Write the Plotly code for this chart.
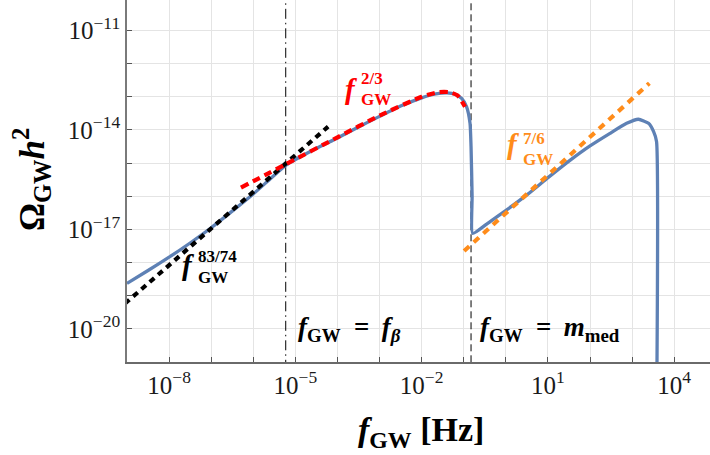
import plotly.graph_objects as go

# ---------------- data ----------------
f_main = [1.0e-9, 3.16e-9, 1.0e-8, 3.16e-8, 1.0e-7, 3.16e-7, 1.0e-6, 2.51e-6, 6.0e-6,
          2.51e-5, 1.0e-4, 3.16e-4, 1.0e-3, 3.16e-3, 1.0e-2, 2.0e-2, 4.0e-2, 6.3e-2,
          8.9e-2, 0.117, 0.141, 0.149, 0.158, 0.163, 0.35, 1.05, 3.16, 10.2, 33.9,
          100.0, 298.0, 741.0, 1410.0, 2450.0, 3240.0, 3800.0, 3850.0]
omega_main = [2.34e-19, 5.75e-19, 1.45e-18, 3.89e-18, 1.12e-17, 3.55e-17, 1.17e-16, 3.31e-16, 8.7e-16,
              2.4e-15, 5.75e-15, 1.23e-14, 2.57e-14, 5.25e-14, 9.3e-14, 1.2e-13, 1.32e-13, 1.2e-13,
              8.9e-14, 5.0e-14, 1.58e-14, 3.16e-15, 1.0e-16, 7.6e-18, 1.45e-17, 3.9e-17, 1.1e-16,
              3.7e-16, 1.23e-15, 3.3e-15, 7.9e-15, 1.58e-14, 2.1e-14, 1.58e-14, 8.9e-15, 4.5e-15, 1.0e-22]

f_red = [5.1e-7, 6.0e-6, 1.0e-4, 1.0e-3, 1.0e-2, 2.5e-2, 4.5e-2, 7.1e-2, 0.107]
omega_red = [1.82e-16, 9.3e-16, 6.0e-15, 2.7e-14, 1.0e-13, 1.38e-13, 1.38e-13, 1.1e-13, 5.0e-14]

f_black = [8.9e-10, 6.0e-5]
omega_black = [5.75e-20, 1.26e-14]

f_orange = [0.102, 2570.0]
omega_orange = [2.24e-18, 2.57e-13]

f_beta = 5.9e-6
m_med = 0.149

x_decades = list(range(-9, 5))
y_decades = list(range(-21, -9))
x_labeled = [-8, -5, -2, 1, 4]
y_labeled = [-20, -17, -14, -11]


def lab(e):
    s = str(e).replace("-", "\u2212")
    return "10<sup>" + s + "</sup>"


# ---------------- geometry helpers (pixel -> paper) ----------------
W, H = 710, 455
L, R, T, B = 127, 0, 0, 93
PW, PH = W - L - R, H - T - B


def px(x):
    return (x - L) / PW


def py(y):
    return (H - B - y) / PH


FONT = "Liberation Serif"
BLUE = "#5E81B5"

fig = go.Figure()

# vertical reference lines
fig.add_trace(go.Scatter(x=[f_beta, f_beta], y=[1e-23, 1e-9], mode="lines",
                         line=dict(color="black", width=1, dash="10px,4px,1.5px,4px"),
                         hoverinfo="skip"))
fig.add_trace(go.Scatter(x=[m_med, m_med], y=[1e-23, 1e-9], mode="lines",
                         line=dict(color="black", width=1, dash="7px,4px"),
                         hoverinfo="skip"))

# main spectrum
fig.add_trace(go.Scatter(x=f_main, y=omega_main, mode="lines",
                         line=dict(color=BLUE, width=3.3, shape="spline", smoothing=0.5)))

# power-law guides
fig.add_trace(go.Scatter(x=f_black, y=omega_black, mode="lines",
                         line=dict(color="black", width=4.2, dash="6px,5px")))
fig.add_trace(go.Scatter(x=f_red, y=omega_red, mode="lines",
                         line=dict(color="#FF0000", width=4.2, dash="8px,5px", shape="spline", smoothing=0.6)))
fig.add_trace(go.Scatter(x=f_orange, y=omega_orange, mode="lines",
                         line=dict(color="#FF8C1A", width=4.2, dash="7px,6px")))

ann = []


def text(x, y, s, size, color="black", xa="left", ya="middle", angle=0, pad=1):
    ann.append(dict(x=px(x), y=py(y), xref="paper", yref="paper", text=s, showarrow=False,
                    xanchor=xa, yanchor=ya, textangle=angle, borderpad=pad, align="left",
                    font=dict(family=FONT, size=size, color=color)))


def powlabel(xs, yf, ymid, sup, color):
    text(xs - 1, yf, "<b><i>f</i></b>", 29, color, xa="right", pad=0)
    text(xs, ymid, "<b>" + sup + "</b>", 17, color, ya="bottom", pad=0)
    text(xs, ymid, "<b>GW</b>", 17, color, ya="top", pad=0)


powlabel(360, 89.5, 89, "2/3", "#FF0000")
powlabel(522, 144.5, 149, "7/6", "#FF8C1A")
powlabel(197, 264.5, 267, "83/74", "black")

text(296, 329, "<b><i>f</i><sub>GW</sub>\u00a0\u00a0=\u00a0\u2009<i>f</i><sub><i>β</i></sub></b>", 27)
text(478, 329, "<b><i>f</i><sub>GW</sub>\u00a0\u00a0=\u00a0\u2009<i>m</i><sub>med</sub></b>", 27)

text(421, 432, "<b><i>f</i><sub>GW</sub> [Hz]</b>", 34, xa="center")
text(32, 180, "<b>Ω<sub>GW</sub><i>h</i><sup>2</sup></b>", 35, xa="center", angle=-90)

tickfont = dict(family=FONT, size=25, color="#1a1a1a")
common = dict(ticks="inside", ticklen=5, tickwidth=1.3, tickcolor="#555", zeroline=False)

fig.update_layout(
    width=W, height=H, margin=dict(l=L, r=R, t=T, b=B),
    paper_bgcolor="white", plot_bgcolor="white", showlegend=False,
    annotations=ann,
    xaxis=dict(type="log", range=[-9, 4.85], tickmode="array",
               tickvals=[10.0 ** e for e in x_labeled],
               ticktext=[lab(e) for e in x_labeled],
               showgrid=True, gridcolor="#e4e4e4", gridwidth=1,
               minor=dict(tickmode="array", tickvals=[10.0 ** e for e in x_decades],
                          ticks="inside", ticklen=5, tickwidth=1.3, tickcolor="#555",
                          showgrid=True, gridcolor="#e4e4e4", gridwidth=1),
               showline=True, linecolor="#6a6a6a", linewidth=1.6,
               tickfont=tickfont, **common),
    yaxis=dict(type="log", range=[-21, -10.08], tickmode="array",
               tickvals=[10.0 ** e for e in y_labeled],
               ticktext=[lab(e) for e in y_labeled],
               showgrid=True, gridcolor="#e4e4e4", gridwidth=1,
               minor=dict(tickmode="array", tickvals=[10.0 ** e for e in y_decades],
                          ticks="inside", ticklen=5, tickwidth=1.3, tickcolor="#555",
                          showgrid=True, gridcolor="#e4e4e4", gridwidth=1),
               showline=True, linecolor="#7a7a7a", linewidth=1.6,
               tickfont=tickfont, **common),
    xaxis2=dict(type="log", range=[-9, 4.85], overlaying="x", side="top", tickmode="array",
                tickvals=[10.0 ** e for e in x_decades], showticklabels=False,
                showgrid=False, showline=False, **common),
    yaxis2=dict(type="log", range=[-21, -10.08], overlaying="y", side="right", tickmode="array",
                tickvals=[10.0 ** e for e in y_decades], showticklabels=False,
                showgrid=False, showline=False, **common),
)

fig.write_html("out.html")
